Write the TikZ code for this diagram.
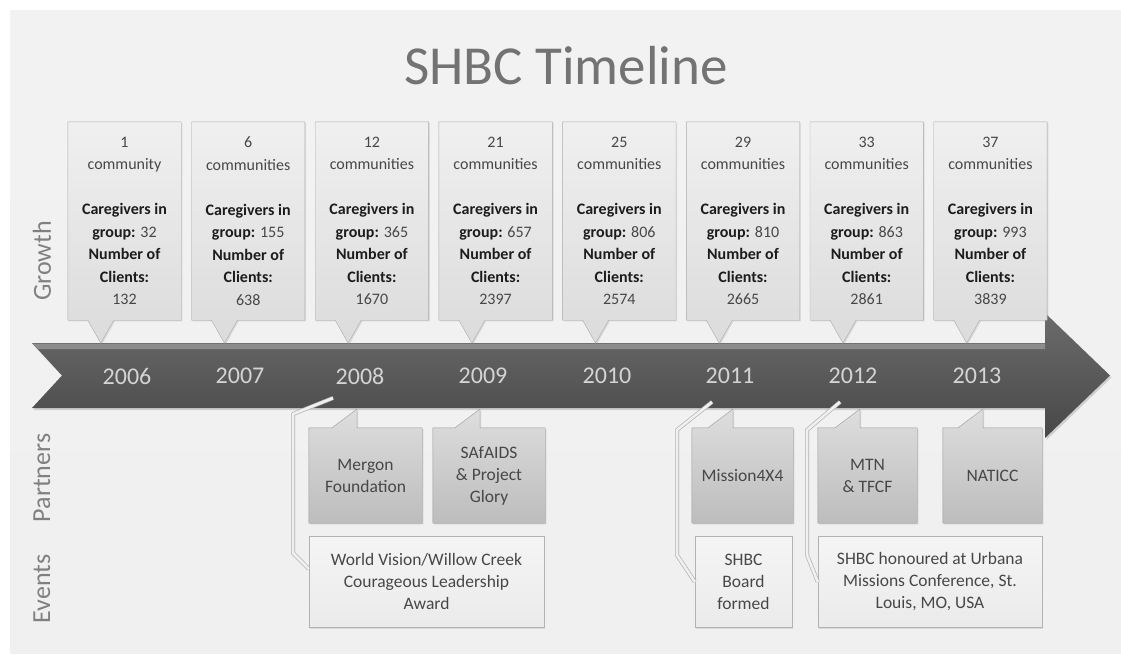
\documentclass[tikz,border=0pt]{standalone}
\usepackage{fontspec}
\setmainfont{Carlito}
\usetikzlibrary{positioning,calc,backgrounds,shadows}

\definecolor{ink}{HTML}{474747}
\definecolor{inkdark}{HTML}{1C1C1C}
\newcommand\kw[1]{{\color{inkdark}\bfseries #1}}

\begin{document}
\begin{tikzpicture}[x=1pt, y=-1pt,
node distance = 10.3pt and 10.3pt,
     G/.style = {minimum width=113pt, minimum height=198pt, inner sep=0pt, align=center,
                 font=\fontsize{16}{22.5}\selectfont, text=ink},
     P/.style = {minimum height=95pt, inner sep=0pt, align=center,
                 font=\fontsize{17.5}{22}\selectfont, text=ink},
     E/.style = {minimum height=91pt, inner sep=0pt, align=center,
                 font=\fontsize{17.5}{22}\selectfont, text=ink},
     Y/.style = {font=\fontsize{24}{24}\selectfont, text=black!17},
     S/.style = {rotate=90, font=\fontsize{26}{26}\selectfont, text=black!50},
  gbox/.style = {draw=black!33, top color=black!6, bottom color=black!14,
                 drop shadow={shadow xshift=1.2pt, shadow yshift=-1.2pt, opacity=.2}},
  pbox/.style = {draw=black!40, top color=black!13, bottom color=black!26,
                 drop shadow={shadow xshift=1.2pt, shadow yshift=-1.2pt, opacity=.25}},
  ebox/.style = {draw=black!30, top color=black!4, bottom color=black!8,
                 drop shadow={shadow xshift=1.2pt, shadow yshift=-1.2pt, opacity=.2}},
  link/.style = {draw=black!30, line width=0.7pt, double=black!6, double distance=2.6pt, line join=round}
                    ]
\useasboundingbox (0,0) rectangle (1121,657);

% panel and timeline arrow
\begin{scope}[on background layer]
\fill[white] (0,0) rectangle (1121,657);
\path[top color=black!5, middle color=black!2, bottom color=black!6] (10,10) rectangle (1121,653);
\path[top color=black!58, bottom color=black!72,
      drop shadow={shadow xshift=1.5pt, shadow yshift=-2pt, opacity=.3}]
  (32,343) -- (1045,343) -- (1045,313) -- (1110,375.5) -- (1045,438) -- (1045,408)
  -- (32,408) -- (62,375.5) -- cycle;
\fill[black!45] (33,343.5) -- (1045,343.5) -- (1045,349) -- (37.5,349) -- cycle;
\end{scope}

\node (title) at (566,66) [font=\fontsize{55}{55}\selectfont, text=black!55] {SHBC Timeline};

\node (growth)   at (42,261) [S] {Growth};
\node (partners) at (42,478) [S] {Partners};
\node (events)   at (42,589) [S] {Events};

    \begin{scope}[nodes=G]
\node (g1) at (124.5,221) {1\\community\\[22.5pt]\kw{Caregivers in}\\\kw{group:} 32\\\kw{Number of}\\\kw{Clients:}\\132};
\node (g2) [right=of g1] {6\\communities\\[22.5pt]\kw{Caregivers in}\\\kw{group:} 155\\\kw{Number of}\\\kw{Clients:}\\638};
\node (g3) [right=of g2] {12\\communities\\[22.5pt]\kw{Caregivers in}\\\kw{group:} 365\\\kw{Number of}\\\kw{Clients:}\\1670};
\node (g4) [right=of g3] {21\\communities\\[22.5pt]\kw{Caregivers in}\\\kw{group:} 657\\\kw{Number of}\\\kw{Clients:}\\2397};
\node (g5) [right=of g4] {25\\communities\\[22.5pt]\kw{Caregivers in}\\\kw{group:} 806\\\kw{Number of}\\\kw{Clients:}\\2574};
\node (g6) [right=of g5] {29\\communities\\[22.5pt]\kw{Caregivers in}\\\kw{group:} 810\\\kw{Number of}\\\kw{Clients:}\\2665};
\node (g7) [right=of g6] {33\\communities\\[22.5pt]\kw{Caregivers in}\\\kw{group:} 863\\\kw{Number of}\\\kw{Clients:}\\2861};
\node (g8) [right=of g7] {37\\communities\\[22.5pt]\kw{Caregivers in}\\\kw{group:} 993\\\kw{Number of}\\\kw{Clients:}\\3839};
    \end{scope}

    \begin{scope}[nodes=Y]
\node (y1) at (127,376) {2006};
\node (y2) at (240,376) {2007};
\node (y3) at (360,376) {2008};
\node (y4) at (483,376) {2009};
\node (y5) at (607,376) {2010};
\node (y6) at (730,376) {2011};
\node (y7) at (853,376) {2012};
\node (y8) at (977,376) {2013};
    \end{scope}

    \begin{scope}[nodes=P]
\node (p1) at (365.5,475.5) [minimum width=113pt] {Mergon\\Foundation};
\node (p2) at (489,475.5)   [minimum width=112pt] {SAfAIDS\\\& Project\\Glory};
\node (p3) at (742.5,475.5) [minimum width=101pt] {Mission4X4};
\node (p4) at (867.5,475.5) [minimum width=99pt]  {MTN\\\& TFCF};
\node (p5) at (992.5,475.5) [minimum width=99pt]  {NATICC};
    \end{scope}

    \begin{scope}[nodes=E]
\node (e1) [below=13pt of p1.south west, anchor=north west, minimum width=235pt]
  {World Vision/Willow Creek\\Courageous Leadership\\Award};
\node (e2) [below=13pt of p3.south west, anchor=north west, xshift=3pt, minimum width=97pt]
  {SHBC\\Board\\formed};
\node (e3) [below=13pt of p4.south west, anchor=north west, minimum width=224pt]
  {SHBC honoured at Urbana\\Missions Conference, St.\\Louis, MO, USA};
    \end{scope}

% pointer tips on the arrow
\coordinate (q1) at (357,409);
\coordinate (q2) at (480,409);
\coordinate (q3) at (733,409);
\coordinate (q4) at (860,409);
\coordinate (q5) at (983,409);
\coordinate (s1) at (333,398);
\coordinate (s2) at (712,402);
\coordinate (s3) at (840,402);

% callout boxes behind the text
\begin{scope}[on background layer]
\path[gbox] (g1.north west) -- (g1.north east) -- (g1.south east) -- ([xshift=46pt]g1.south west) -- ++(-13,23) -- ++(-13,-23) -- (g1.south west) -- cycle;
\path[gbox] (g2.north west) -- (g2.north east) -- (g2.south east) -- ([xshift=46pt]g2.south west) -- ++(-13,23) -- ++(-13,-23) -- (g2.south west) -- cycle;
\path[gbox] (g3.north west) -- (g3.north east) -- (g3.south east) -- ([xshift=46pt]g3.south west) -- ++(-13,23) -- ++(-13,-23) -- (g3.south west) -- cycle;
\path[gbox] (g4.north west) -- (g4.north east) -- (g4.south east) -- ([xshift=46pt]g4.south west) -- ++(-13,23) -- ++(-13,-23) -- (g4.south west) -- cycle;
\path[gbox] (g5.north west) -- (g5.north east) -- (g5.south east) -- ([xshift=46pt]g5.south west) -- ++(-13,23) -- ++(-13,-23) -- (g5.south west) -- cycle;
\path[gbox] (g6.north west) -- (g6.north east) -- (g6.south east) -- ([xshift=46pt]g6.south west) -- ++(-13,23) -- ++(-13,-23) -- (g6.south west) -- cycle;
\path[gbox] (g7.north west) -- (g7.north east) -- (g7.south east) -- ([xshift=46pt]g7.south west) -- ++(-13,23) -- ++(-13,-23) -- (g7.south west) -- cycle;
\path[gbox] (g8.north west) -- (g8.north east) -- (g8.south east) -- ([xshift=46pt]g8.south west) -- ++(-13,23) -- ++(-13,-23) -- (g8.south west) -- cycle;

\path[pbox] (p1.south west) -- (p1.north west) -- ($(q1 |- p1.north)+(-25,0)$) -- (q1) -- (q1 |- p1.north) -- (p1.north east) -- (p1.south east) -- cycle;
\path[pbox] (p2.south west) -- (p2.north west) -- ($(q2 |- p2.north)+(-25,0)$) -- (q2) -- (q2 |- p2.north) -- (p2.north east) -- (p2.south east) -- cycle;
\path[pbox] (p3.south west) -- (p3.north west) -- ($(q3 |- p3.north)+(-25,0)$) -- (q3) -- (q3 |- p3.north) -- (p3.north east) -- (p3.south east) -- cycle;
\path[pbox] (p4.south west) -- (p4.north west) -- ($(q4 |- p4.north)+(-25,0)$) -- (q4) -- (q4 |- p4.north) -- (p4.north east) -- (p4.south east) -- cycle;
\path[pbox] (p5.south west) -- (p5.north west) -- ($(q5 |- p5.north)+(-25,0)$) -- (q5) -- (q5 |- p5.north) -- (p5.north east) -- (p5.south east) -- cycle;

\path[ebox] (e1.south west) rectangle (e1.north east);
\path[ebox] (e2.south west) rectangle (e2.north east);
\path[ebox] (e3.south west) rectangle (e3.north east);
\end{scope}

% event links from the arrow
\draw[link] (s1) -- ++(-40,16) -- ++(0,139) -- ([yshift=13pt]e1.west);
\draw[link] (s2) -- ++(-35,28) -- ++(0,125) -- (e2.west);
\draw[link] (s3) -- ++(-33,28) -- ++(0,125) -- (e3.west);
    \end{tikzpicture}
\end{document}
